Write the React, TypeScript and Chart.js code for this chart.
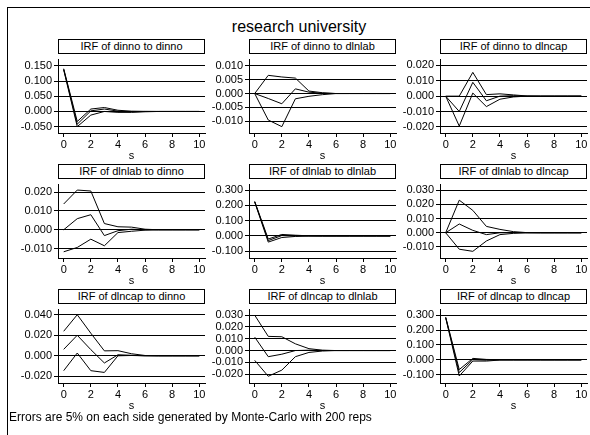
import React, { useEffect, useRef } from "react";
import { Chart, registerables } from "chart.js";
Chart.register(...registerables);
Chart.defaults.font.family = '"Liberation Sans", Arial, sans-serif';

const steps = [0, 1, 2, 3, 4, 5, 6, 7, 8, 9, 10];
const xTicks = [0, 2, 4, 6, 8, 10];

// IRF of dinno to dinno
const dinnoDinnoUpper = [0.141, -0.033, 0.008, 0.013, 0.004, 0.001, 0.0003, 0, 0, 0, 0];
const dinnoDinnoIrf = [0.139, -0.042, 0.002, 0.008, 0.001, -0.001, 0, 0, 0, 0, 0];
const dinnoDinnoLower = [0.137, -0.05, -0.012, 0.0, -0.003, -0.003, -0.001, 0, 0, 0, 0];
// IRF of dinno to dlnlab
const dinnoDlnlabUpper = [0, 0.0066, 0.006, 0.0056, 0.0009, 0.0003, 0, 0, 0, 0, 0];
const dinnoDlnlabIrf = [0, -0.0018, -0.0037, 0.0017, 0.0005, 0.0001, 0, 0, 0, 0, 0];
const dinnoDlnlabLower = [0, -0.0096, -0.012, -0.0019, -0.001, -0.0004, 0, 0, 0, 0, 0];
// IRF of dinno to dlncap
const dinnoDlncapUpper = [0, 0.0, 0.0155, 0.001, 0.0015, 0.0008, 0.0001, 0, 0, 0, 0];
const dinnoDlncapIrf = [0, -0.01, 0.009, -0.003, 0.0, 0.0003, 0, 0, 0, 0, 0];
const dinnoDlncapLower = [0, -0.0195, 0.002, -0.0068, -0.002, -0.0005, 0, 0, 0, 0, 0];
// IRF of dlnlab to dinno
const dlnlabDinnoUpper = [0.0137, 0.0211, 0.0206, 0.0033, 0.0016, 0.0014, 0.0003, 0, 0, 0, 0];
const dlnlabDinnoIrf = [0, 0.0059, 0.008, -0.0031, -0.0005, 0.0003, 0, 0, 0, 0, 0];
const dlnlabDinnoLower = [-0.0117, -0.0094, -0.005, -0.0085, -0.0015, -0.0008, -0.0002, 0, 0, 0, 0];
// IRF of dlnlab to dlnlab
const dlnlabDlnlabUpper = [0.226, -0.02, 0.01, 0.005, 0.001, 0, 0, 0, 0, 0, 0];
const dlnlabDlnlabIrf = [0.224, -0.03, 0.003, 0.0, 0, 0, 0, 0, 0, 0, 0];
const dlnlabDlnlabLower = [0.222, -0.04, -0.01, -0.003, 0, 0, 0, 0, 0, 0, 0];
// IRF of dlnlab to dlncap
const dlnlabDlncapUpper = [0, 0.023, 0.0158, 0.0045, 0.0024, 0.0008, 0.0001, 0, 0, 0, 0];
const dlnlabDlncapIrf = [0, 0.0062, 0.0017, -0.0013, 0.0, 0.0001, 0, 0, 0, 0, 0];
const dlnlabDlncapLower = [0, -0.0116, -0.0131, -0.0058, -0.0013, -0.0004, 0, 0, 0, 0, 0];
// IRF of dlncap to dinno
const dlncapDinnoUpper = [0.0239, 0.04, 0.022, 0.0048, 0.005, 0.002, 0.0003, 0, 0, 0, 0];
const dlncapDinnoIrf = [0.0063, 0.02, 0.006, -0.007, 0.001, 0.0005, 0, 0, 0, 0, 0];
const dlncapDinnoLower = [-0.0145, 0.0027, -0.0145, -0.0162, 0.0, 0.0003, 0, 0, 0, 0, 0];
// IRF of dlncap to dlnlab
const dlncapDlnlabUpper = [0.03, 0.012, 0.0117, 0.0057, 0.0016, 0.0003, 0, 0, 0, 0, 0];
const dlncapDlnlabIrf = [0.0114, -0.0052, -0.0031, 0.0, 0.0003, 0.0001, 0, 0, 0, 0, 0];
const dlncapDlnlabLower = [-0.0083, -0.0218, -0.0166, -0.0052, -0.0016, -0.0004, 0, 0, 0, 0, 0];
// IRF of dlncap to dlncap
const dlncapDlncapUpper = [0.286, -0.065, 0.01, 0.003, 0.001, 0, 0, 0, 0, 0, 0];
const dlncapDlncapIrf = [0.284, -0.085, 0.002, -0.002, 0, 0, 0, 0, 0, 0, 0];
const dlncapDlncapLower = [0.282, -0.108, -0.008, -0.008, -0.001, 0, 0, 0, 0, 0, 0];

const ticksA = [0.15, 0.1, 0.05, 0, -0.05];
const ticksB = [0.01, 0.005, 0, -0.005, -0.01];
const ticksC = [0.02, 0.01, 0, -0.01, -0.02];
const ticksD = [0.02, 0.01, 0, -0.01];
const ticksE = [0.3, 0.2, 0.1, 0, -0.1];
const ticksF = [0.03, 0.02, 0.01, 0, -0.01];
const ticksG = [0.04, 0.02, 0, -0.02];
const ticksH = [0.03, 0.02, 0.01, 0, -0.01, -0.02];

const panels = [
  { title: "IRF of dinno to dinno", row: 0, col: 0, series: [dinnoDinnoUpper, dinnoDinnoIrf, dinnoDinnoLower], yMin: -0.071, yMax: 0.171, ticks: ticksA },
  { title: "IRF of dinno to dlnlab", row: 0, col: 1, series: [dinnoDlnlabUpper, dinnoDlnlabIrf, dinnoDlnlabLower], yMin: -0.0143, yMax: 0.0123, ticks: ticksB },
  { title: "IRF of dinno to dlncap", row: 0, col: 2, series: [dinnoDlncapUpper, dinnoDlncapIrf, dinnoDlncapLower], yMin: -0.024, yMax: 0.0238, ticks: ticksC },
  { title: "IRF of dlnlab to dinno", row: 1, col: 0, series: [dlnlabDinnoUpper, dlnlabDinnoIrf, dlnlabDinnoLower], yMin: -0.015, yMax: 0.024, ticks: ticksD },
  { title: "IRF of dlnlab to dlnlab", row: 1, col: 1, series: [dlnlabDlnlabUpper, dlnlabDlnlabIrf, dlnlabDlnlabLower], yMin: -0.144, yMax: 0.336, ticks: ticksE },
  { title: "IRF of dlnlab to dlncap", row: 1, col: 2, series: [dlnlabDlncapUpper, dlnlabDlncapIrf, dlnlabDlncapLower], yMin: -0.0178, yMax: 0.034, ticks: ticksF },
  { title: "IRF of dlncap to dinno", row: 2, col: 0, series: [dlncapDinnoUpper, dlncapDinnoIrf, dlncapDinnoLower], yMin: -0.0265, yMax: 0.045, ticks: ticksG },
  { title: "IRF of dlncap to dlnlab", row: 2, col: 1, series: [dlncapDlnlabUpper, dlncapDlnlabIrf, dlncapDlnlabLower], yMin: -0.0275, yMax: 0.0347, ticks: ticksH },
  { title: "IRF of dlncap to dlncap", row: 2, col: 2, series: [dlncapDlncapUpper, dlncapDlncapIrf, dlncapDlncapLower], yMin: -0.155, yMax: 0.337, ticks: ticksE },
];

const PLOT_LEFT0 = 58;
const COL_PITCH = 191;
const PLOT_TOP0 = 53;
const ROW_PITCH = 125;
const PLOT_W = 147;
const PLOT_H = 80;
const LABEL_W = 56;
const BOTTOM_H = 30;
const PAD_TOP = 2;
const PAD_RIGHT = 4;
const FONT = '"Liberation Sans", Arial, sans-serif';

function Panel(props: any) {
  const { title, row, col, series, yMin, yMax, ticks } = props;
  const ref = useRef<HTMLCanvasElement>(null);
  const plotLeft = PLOT_LEFT0 + col * COL_PITCH;
  const plotTop = PLOT_TOP0 + row * ROW_PITCH;
  const cw = LABEL_W + PLOT_W + PAD_RIGHT;
  const ch = PAD_TOP + PLOT_H + BOTTOM_H;

  useEffect(() => {
    if (!ref.current) return;
    const chart = new Chart(ref.current, {
      type: "line",
      data: {
        datasets: series.map((arr: number[]) => ({
          data: arr.map((v, i) => ({ x: steps[i], y: v })),
          borderColor: "#000",
          borderWidth: 1,
          pointRadius: 0,
          fill: false,
          tension: 0,
        })),
      },
      options: {
        animation: false,
        responsive: false,
        devicePixelRatio: 1,
        layout: { padding: { top: PAD_TOP, right: PAD_RIGHT, left: 0, bottom: 0 } },
        plugins: { legend: { display: false }, tooltip: { enabled: false } },
        scales: {
          x: {
            type: "linear",
            min: -0.42,
            max: 10.42,
            afterBuildTicks: (s: any) => {
              s.ticks = xTicks.map((v) => ({ value: v }));
            },
            afterFit: (s: any) => {
              s.height = BOTTOM_H;
            },
            grid: { drawOnChartArea: false, drawTicks: true, tickLength: 4, color: "#000" },
            border: { display: true, color: "#000", width: 1 },
            ticks: { color: "#000", font: { size: 11 }, padding: 1, maxRotation: 0, autoSkip: false },
            title: { display: true, text: "s", color: "#000", font: { size: 11 }, padding: 0 },
          },
          y: {
            type: "linear",
            min: yMin,
            max: yMax,
            afterBuildTicks: (s: any) => {
              s.ticks = ticks.map((v: number) => ({ value: v }));
            },
            afterFit: (s: any) => {
              s.width = LABEL_W;
            },
            grid: { color: "#000", lineWidth: 1, drawTicks: true, tickLength: 4 },
            border: { display: true, color: "#000", width: 1 },
            ticks: {
              color: "#000",
              font: { size: 11 },
              padding: 2,
              autoSkip: false,
              callback: (v: any) => Number(v).toFixed(3),
            },
          },
        },
      } as any,
    });
    return () => chart.destroy();
  }, []);

  return (
    <>
      <canvas
        ref={ref}
        width={cw}
        height={ch}
        style={{ position: "absolute", left: plotLeft - LABEL_W, top: plotTop - PAD_TOP, width: cw, height: ch }}
      />
      <div
        style={{
          position: "absolute",
          left: plotLeft,
          top: plotTop - 14,
          width: PLOT_W,
          height: 15,
          boxSizing: "border-box",
          border: "1px solid #000",
          fontSize: 11,
          lineHeight: "12px",
          textAlign: "center",
          color: "#000",
          background: "#fff",
        }}
      >
        {title}
      </div>
    </>
  );
}

export default function App() {
  return (
    <div
      style={{
        position: "absolute",
        left: 0,
        top: 0,
        width: 590,
        height: 435,
        background: "#fff",
        overflow: "hidden",
        fontFamily: FONT,
        color: "#000",
      }}
    >
      <div
        style={{
          position: "absolute",
          left: 7,
          top: 7,
          width: 700,
          height: 500,
          borderLeft: "1px solid #000",
          borderTop: "1px solid #000",
        }}
      />
      <div style={{ position: "absolute", left: 0, width: 598, top: 19, fontSize: 16, lineHeight: "16px", textAlign: "center" }}>
        research university
      </div>
      {panels.map((p) => (
        <Panel key={p.title} {...p} />
      ))}
      <div style={{ position: "absolute", left: 9, top: 410, fontSize: 12, lineHeight: "14px", whiteSpace: "nowrap" }}>
        Errors are 5% on each side generated by Monte-Carlo with 200 reps
      </div>
    </div>
  );
}
